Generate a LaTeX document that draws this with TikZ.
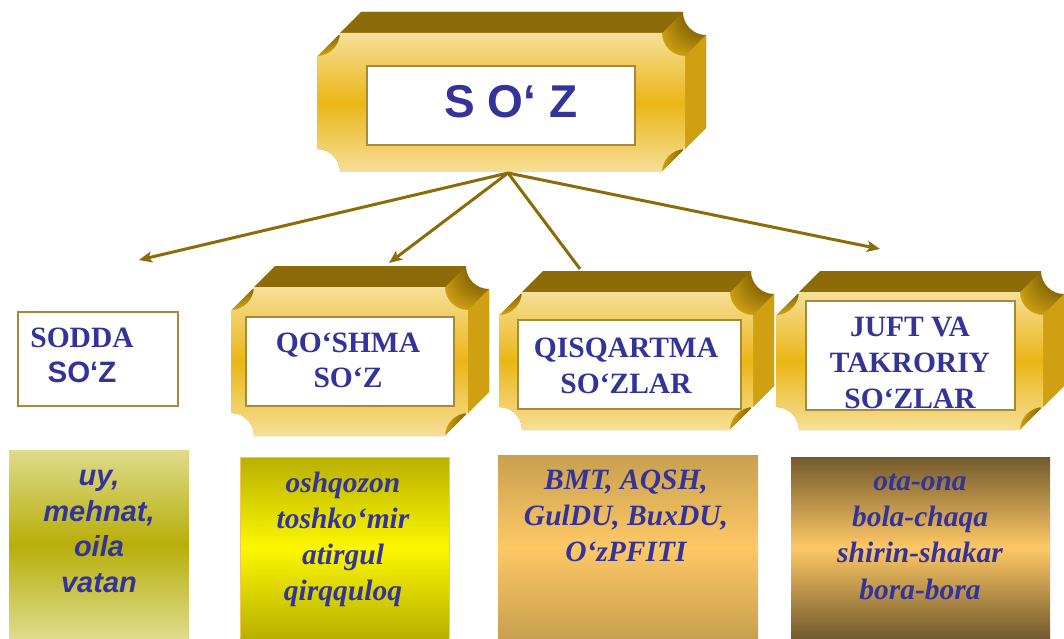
\documentclass[tikz,border=0pt]{standalone}
\usepackage{fontspec}
\setmainfont{Liberation Serif}
\setsansfont{Liberation Sans}
\usetikzlibrary{arrows.meta}

\definecolor{soztext}{HTML}{333399}
\definecolor{plqbrown}{HTML}{8C6B08}
\definecolor{plqgold}{HTML}{CFA012}
\definecolor{plqlight}{HTML}{F6DF98}
\definecolor{plqmid}{HTML}{EBB616}
\definecolor{plqframe}{HTML}{A8883A}
\definecolor{linkbrown}{HTML}{8C6B08}
\definecolor{boxAlight}{HTML}{DEDB8C}
\definecolor{boxAmid}{HTML}{B7AF0A}
\definecolor{boxBedge}{HTML}{B8B000}
\definecolor{boxBmid}{HTML}{FBF700}
\definecolor{boxBframe}{HTML}{F7C35E}
\definecolor{boxCedge}{HTML}{C8A050}
\definecolor{boxCmid}{HTML}{FEC865}
\definecolor{boxDedge}{HTML}{735A2E}
\definecolor{boxDmid}{HTML}{FEC865}

\tikzset{
  plaqueshape/.style n args={4}{insert path={(#1+23,#2) -- (#3-23,#2)
      arc[start angle=180,end angle=90,radius=23pt] -- (#3,#4-23)
      arc[start angle=270,end angle=180,radius=23pt] -- (#1+23,#4)
      arc[start angle=0,end angle=-90,radius=23pt] -- (#1,#2+23)
      arc[start angle=90,end angle=0,radius=23pt] -- cycle}},
  plqfront/.style={top color=plqlight, bottom color=plqlight, middle color=plqmid},
  labelbox/.style={draw=plqframe, line width=1.3pt, fill=white, inner sep=0pt},
  wordtext/.style={text=soztext, align=center, inner sep=0pt, anchor=base},
  link/.style={draw=linkbrown, line width=3pt},
  arrowlink/.style={link, -{Stealth[length=13pt,width=11pt,inset=3pt]}},
}

% gold plaque with depth: x0 y0 x1 y1 of the front face
\newcommand{\plaque}[4]{%
  \foreach \t in {21,20,...,0}{%
    \pgfmathsetmacro{\plqpct}{100*\t/21}%
    \fill[plqbrown!\plqpct!plqgold, shift={(\t,\t)}, plaqueshape={#1}{#2}{#3}{#4}];
  }
  \fill[plqbrown] (#1+23,#4) -- (#3-23,#4) -- (#3-2,#4+21) -- (#1+44,#4+21) -- cycle;
  \fill[plqgold] (#3,#2+23) -- (#3,#4-23) -- (#3+21,#4-2) -- (#3+21,#2+44) -- cycle;
  \shade[plqfront, plaqueshape={#1}{#2}{#3}{#4}];
}

\begin{document}
\begin{tikzpicture}[x=1pt, y=1pt]
  \useasboundingbox (0,0) rectangle (1064,638);

  % top
  \plaque{317}{466}{685}{605}
  \node[labelbox, minimum width=268pt, minimum height=79pt] (soz) at (501,532.5) {};
  \node[wordtext, font=\sffamily\bfseries\fontsize{46}{50}\selectfont] (soz-text) at (511,520) {S O‘ Z};

  % links
  \coordinate (apex) at (508,465);
  \coordinate (to-sodda) at (139,378);
  \coordinate (to-qoshma) at (389,375);
  \coordinate (to-qisqa) at (580,369);
  \coordinate (to-juft) at (880,389);
  \draw[arrowlink] (apex) -- (to-sodda);
  \draw[arrowlink] (apex) -- (to-qoshma);
  \draw[link] (apex) -- (to-qisqa);
  \draw[arrowlink] (apex) -- (to-juft);

  % second row
  \node[draw=plqframe, line width=1.3pt, fill=white, minimum width=160pt, minimum height=94pt] (sodda) at (98,279) {};
  \node[wordtext, font=\bfseries\fontsize{29.5}{35}\selectfont] (sodda-text) at (82,256) {SODDA\\\sffamily SO‘Z};

  \plaque{231}{202}{468}{351}
  \node[labelbox, minimum width=208pt, minimum height=89pt] (qoshma) at (350,276.5) {};
  \node[wordtext, font=\bfseries\fontsize{29.5}{35}\selectfont] (qoshma-text) at (348,251) {QO‘SHMA\\SO‘Z};

  \plaque{499}{208}{753}{346}
  \node[labelbox, minimum width=223pt, minimum height=89pt] (qisqa) at (629.5,273.5) {};
  \node[wordtext, font=\bfseries\fontsize{29.5}{36}\selectfont] (qisqa-text) at (626,245) {QISQARTMA\\SO‘ZLAR};

  \plaque{776}{208}{1043}{346}
  \node[labelbox, minimum width=209pt, minimum height=109pt] (juft) at (910.5,282.5) {};
  \node[wordtext, font=\bfseries\fontsize{29.5}{36}\selectfont] (juft-text) at (910,230) {JUFT VA\\TAKRORIY\\SO‘ZLAR};

  % examples
  \shade[top color=boxAlight, bottom color=boxAlight, middle color=boxAmid] (9,0) rectangle (189,188);
  \node[wordtext, font=\sffamily\bfseries\itshape\fontsize{29}{35.5}\selectfont] (sodda-ex) at (99,46) {uy,\\mehnat,\\oila\\vatan};

  \shade[top color=boxBedge, bottom color=boxBedge, middle color=boxBmid] (240,0) rectangle (449,181);
  \draw[boxBframe, line width=1pt] (240,0) -- (240,181) -- (449,181) -- (449,0);
  \node[wordtext, font=\bfseries\itshape\fontsize{29.5}{36}\selectfont] (qoshma-ex) at (343,38) {oshqozon\\toshko‘mir\\atirgul\\qirqquloq};

  \shade[top color=boxCedge, bottom color=boxCedge, middle color=boxCmid] (498,0) rectangle (758,183);
  \node[wordtext, font=\bfseries\itshape\fontsize{29.5}{36}\selectfont] (qisqa-ex) at (626,77) {BMT, AQSH,\\GulDU, BuxDU,\\O‘zPFITI};

  \shade[top color=boxDedge, bottom color=boxDedge, middle color=boxDmid] (791,0) rectangle (1050,181);
  \node[wordtext, font=\bfseries\itshape\fontsize{29.5}{36.3}\selectfont] (juft-ex) at (920,39) {ota-ona\\bola-chaqa\\shirin-shakar\\bora-bora};
\end{tikzpicture}
\end{document}
